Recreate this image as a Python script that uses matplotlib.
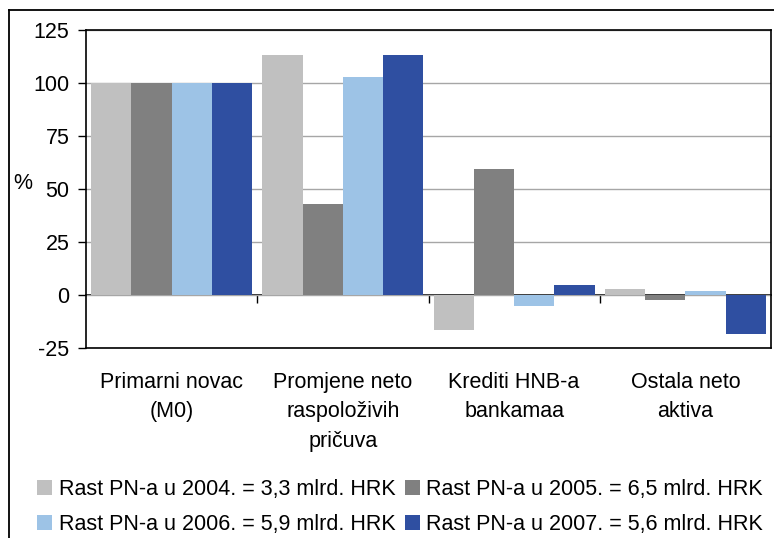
import matplotlib
matplotlib.use("Agg")
import matplotlib.pyplot as plt
from matplotlib.lines import Line2D
import numpy as np

plt.rcParams['font.family'] = ['Liberation Sans', 'DejaVu Sans']

categories = ["Primarni novac\n(M0)", "Promjene neto\nraspoloživih\npričuva",
              "Krediti HNB-a\nbankamaa", "Ostala neto\naktiva"]
series_labels = ["Rast PN-a u 2004. = 3,3 mlrd. HRK",
                 "Rast PN-a u 2005. = 6,5 mlrd. HRK",
                 "Rast PN-a u 2006. = 5,9 mlrd. HRK",
                 "Rast PN-a u 2007. = 5,6 mlrd. HRK"]
v2004 = [100, 113, -16.5, 2.8]
v2005 = [100, 43, 59.5, -2.4]
v2006 = [100, 103, -5, 1.9]
v2007 = [100, 113, 4.7, -18.4]
colors = ["#C0C0C0", "#808080", "#9DC3E6", "#2F4FA1"]
yticks = [-25, 0, 25, 50, 75, 100, 125]

fs = 15.5
fig = plt.figure(figsize=(7.74, 5.38), dpi=100)
ax = fig.add_axes([86/774, 1-348/538, 685/774, 318/538])

x = np.arange(len(categories))
w = 0.235
bars = []
for i, vals in enumerate([v2004, v2005, v2006, v2007]):
    b = ax.bar(x + (i - 1.5)*w, vals, w, color=colors[i], label=series_labels[i], zorder=2)
    bars.append(b)

ax.set_xlim(-0.5, len(categories) - 0.5)
ax.set_ylim(-25, 125)
ax.set_yticks(yticks)
ax.set_yticklabels([str(t) for t in yticks], fontsize=fs)
ax.tick_params(axis='y', direction='out', length=6, width=1, pad=6)
ax.yaxis.grid(True, color="#A6A6A6", linewidth=1, zorder=0)
ax.set_axisbelow(True)

ax.set_xticks(x)
ax.set_xticklabels(categories, fontsize=fs, linespacing=1.55)
ax.tick_params(axis='x', length=0, pad=17)

for s in ax.spines.values():
    s.set_color("black")
    s.set_linewidth(1.2)

# zero line with category separators
sec = ax.secondary_xaxis(0, transform=ax.transData)
sec.set_xticks(x[:-1] + 0.5)
sec.set_xticklabels([])
sec.tick_params(direction='out', length=6, width=1, color='black')
sec.spines['bottom'].set_color('black')
sec.spines['bottom'].set_linewidth(1.2)

ax.set_ylabel("%", rotation=0, fontsize=fs)
ax.yaxis.set_label_coords(-0.093, 0.484)

order = [0, 2, 1, 3]
handles = [bars[i] for i in order]
labels = [series_labels[i] for i in order]
fig.legend(handles, labels, loc='upper left', bbox_to_anchor=(37/774, 1-479/538),
           ncol=2, frameon=False, fontsize=fs, handlelength=0.7, handleheight=0.65,
           handletextpad=0.3, columnspacing=0.45, labelspacing=0.65, borderpad=0,
           borderaxespad=0)

# outer chart border
fig.add_artist(Line2D([9/774, 9/774], [0, 1-10/538], color='black', linewidth=1.3,
                      transform=fig.transFigure))
fig.add_artist(Line2D([9/774, 1], [1-10/538, 1-10/538], color='black', linewidth=1.3,
                      transform=fig.transFigure))

fig.savefig("out.png", dpi=100)
